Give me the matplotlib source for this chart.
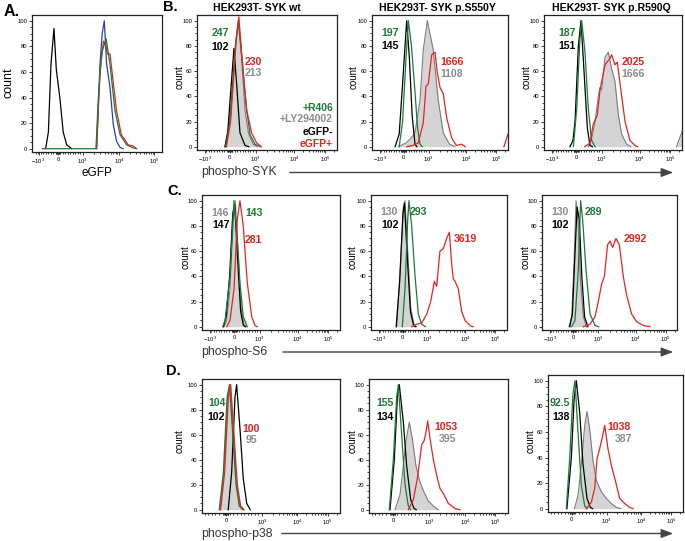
import numpy as np
import matplotlib
matplotlib.use('Agg')
import matplotlib.pyplot as plt
from matplotlib.patches import FancyArrowPatch

plt.rcParams['font.family'] = ['Liberation Sans', 'DejaVu Sans']
plt.rcParams['mathtext.default'] = 'regular'

W, H = 685, 541

GREEN = '#1b7a33'
RED = '#e42320'
BLUE = '#2c3db4'
GRAY_TXT = '#8c8c8c'
GRAY_EDGE = '#7c7c7c'
GRAY_FILL = '#d4d4d4'

# --- histogram curves, (display channel 0..100, % of max) ---
# panel A: eGFP
A_black = [(10.5, 0), (12.6, 13), (14.6, 66), (16.9, 94), (18.7, 62), (21.5, 39), (24, 13), (26.7, 3), (30.5, 0)]
A_blue = [(49.7, 0), (52.3, 66), (54, 90), (55.6, 100), (57.4, 66), (60, 48), (62.5, 19), (65, 6), (67.7, 1), (70, 0)]
A_green = [(8, 0), (49.2, 0), (51, 39), (53.6, 75), (57, 86), (60, 66), (63.8, 30), (67.7, 11), (72.8, 3), (78, 0.5), (80, 0)]
A_red = [(49.7, 0), (52.3, 60), (55, 84), (57, 80), (58, 74), (60, 74), (62.5, 52), (65, 30), (68.7, 11), (74, 3), (78, 2), (80.5, 0)]

# row B: phospho-SYK
B1_gray = [(20, 0), (23, 18), (25, 45), (27.4, 78), (29.5, 100), (31.9, 70), (34.3, 29), (36.7, 11), (40.2, 2), (43, 0)]
B1_black = [(20, 0), (22, 12), (23.6, 37), (26.4, 78), (28.3, 50), (30.7, 11), (34.3, 1), (37, 0)]
B1_green = [(20.5, 0), (23.5, 20), (25.5, 50), (27.5, 82), (29.6, 100), (32, 72), (35.5, 29), (37.9, 9.5), (41.4, 2), (45, 0)]
B1_red = [(21, 0), (24, 20), (26, 52), (28, 85), (29.9, 103), (33, 58), (35.5, 29), (39, 11), (42.6, 3), (46, 0)]

B2_gray = [(19.4, 0), (25, 3), (28, 6), (31.6, 11), (35.3, 37), (37.7, 77), (40.7, 100), (45, 77), (48.7, 37), (52.4, 11), (57, 2), (61, 0)]
B2_black = [(17, 0), (20, 10), (22.5, 50), (25.5, 100), (27.5, 70), (29.5, 25), (31.6, 2), (33, 0)]
B2_green = [(20, 0), (22.5, 20), (25, 70), (26.7, 100), (29, 80), (31.5, 45), (33.5, 15), (35.3, 2), (37, 0)]
B2_red = [(25.5, 0), (30, 1), (34, 3), (37.7, 19), (39.7, 48), (41.4, 50), (43.9, 73), (46.3, 75), (48, 59), (50, 47),
          (52.4, 42), (54.9, 23), (58.6, 7), (62, 1), (66, 2), (68.5, 0)]
B2_red_edge = [(97, 0), (98.5, 5), (100, 10)]

B3_gray = [(32, 0), (34.5, 6), (37, 20), (39.4, 40), (40.5, 47), (41.8, 45), (44.2, 71), (46.6, 75), (49, 62), (51.4, 52),
           (53.9, 25), (56.3, 10), (59.9, 2), (63, 0)]
B3_gray_edge = [(96, 0), (98, 6), (100, 12)]
B3_black = [(18.8, 0), (21, 5), (22.5, 20), (24.9, 80), (26.8, 100), (29, 60), (31.4, 15), (33.3, 1), (35, 0)]
B3_green = [(21.3, 0), (23.7, 30), (26, 85), (27.3, 100), (29.7, 75), (32.1, 30), (34.5, 5), (37, 0)]
B3_red = [(29.5, 0), (33.3, 3), (35.7, 18), (38.6, 25), (40.6, 45), (44.2, 65), (47.8, 70), (49, 73), (51.4, 65), (53.1, 67),
          (56.3, 40), (58.7, 20), (62.3, 5), (65.9, 1), (68, 0)]

# row C: phospho-S6
C1_gray = [(16, 0), (17.9, 5), (20.3, 30), (22.7, 85), (24.1, 100), (26.3, 55), (28.3, 15), (30.4, 2), (32, 0)]
C1_black = [(15.5, 0), (17.5, 8), (20, 40), (22.3, 90), (23.7, 97), (26, 50), (28, 12), (30, 1), (31.5, 0)]
C1_green = [(15, 0), (16.7, 5), (20.3, 40), (23.2, 100), (25.6, 70), (27.5, 35), (29.9, 8), (32.8, 0)]
C1_red = [(18, 0), (20.3, 5), (23.2, 30), (25.6, 85), (27.5, 100), (29.9, 80), (32.8, 35), (36, 8), (38.4, 1), (40, 0)]

C2_gray = [(18.9, 0), (21.3, 40), (23.8, 95), (25, 100), (27, 60), (29.2, 15), (31.6, 2), (33, 0)]
C2_black = [(18.5, 0), (21, 35), (23.5, 90), (24.6, 98), (26.7, 55), (29, 12), (31.3, 1), (33, 0)]
C2_green = [(23, 0), (25, 30), (27, 85), (27.9, 100), (29.9, 80), (32.4, 40), (34.8, 10), (37.3, 2), (40, 0)]
C2_red = [(29.9, 0), (33.6, 2), (37.3, 3), (41, 10), (43.9, 20), (46.6, 36), (48.3, 32), (50.7, 60), (53.2, 62), (55.6, 70),
          (57.6, 75), (59.3, 50), (60.5, 38), (61.8, 36), (64.2, 30), (66.7, 12), (69.1, 5), (72.8, 1), (75, 0)]

C3_gray = [(20, 0), (22, 8), (23.7, 50), (25.2, 100), (26.9, 80), (28.6, 35), (30.6, 8), (33, 0)]
C3_black = [(20.5, 0), (22.5, 10), (24.5, 60), (26, 95), (27.6, 85), (29.5, 40), (31.5, 8), (34, 0)]
C3_green = [(22, 0), (24.4, 5), (26.9, 45), (28.6, 100), (30.1, 85), (32.6, 45), (35.6, 10), (39.3, 1), (42, 0)]
C3_red = [(30.6, 0), (35.6, 2), (39.3, 8), (41.7, 20), (44.2, 34), (46.2, 40), (48.6, 65), (50.4, 68), (52.3, 63), (54.8, 70),
          (57.3, 65), (60.2, 40), (62.7, 25), (66.4, 10), (70.1, 4), (75, 1), (80, 0)]

# row D: phospho-p38
D1_gray = [(13, 0), (15.9, 30), (18.6, 90), (20.3, 100), (22.7, 60), (25.1, 20), (27.5, 3), (30, 0)]
D1_black = [(19, 0), (21.5, 30), (23.9, 90), (25.1, 100), (27.5, 65), (29.9, 25), (32.4, 5), (35, 0)]
D1_green = [(12.5, 0), (15.5, 30), (18.2, 90), (19.9, 100), (22.3, 60), (24.7, 20), (27, 3), (29.5, 0)]
D1_red = [(13.5, 0), (16.4, 30), (19.1, 90), (20.8, 100), (23.2, 60), (25.6, 20), (28, 3), (30.5, 0)]

D2_gray = [(18.7, 0), (22.3, 12), (24.7, 35), (26.6, 55), (29, 70), (31.4, 55), (33.8, 35), (36.7, 22), (39.6, 14),
           (42.7, 7), (46.3, 3), (49.9, 0)]
D2_black = [(15.1, 0), (18.2, 40), (20.4, 90), (21.8, 100), (24.7, 70), (27.1, 35), (30, 8), (32.4, 1), (34, 0)]
D2_green = [(14.6, 0), (17.5, 40), (19.9, 90), (21.1, 100), (23.5, 60), (25.9, 20), (28.3, 3), (30, 0)]
D2_red = [(28.3, 0), (31.9, 8), (34.8, 25), (37.9, 52), (39.6, 55), (41, 62), (42.2, 71), (43.9, 57), (46.3, 40), (49.2, 25),
          (51.1, 17), (53.5, 13), (57.1, 5), (61.9, 1), (65.5, 0)]

D3_gray = [(19.5, 0), (22.2, 10), (24.7, 35), (27.2, 65), (28.9, 76), (30.9, 62), (33.3, 38), (35.8, 22), (39.6, 13),
           (43.3, 8), (46.9, 4), (50.7, 1), (54, 0)]
D3_black = [(14, 0), (17.3, 40), (19.3, 85), (21, 100), (23.5, 75), (25.9, 35), (28.9, 8), (31.4, 1), (33, 0)]
D3_green = [(13.6, 0), (16.1, 40), (18.5, 90), (20, 100), (22.2, 60), (24.7, 18), (27.2, 2), (29, 0)]
D3_red = [(28.4, 0), (32.1, 5), (34.6, 16), (36.3, 39), (38.3, 47), (40.3, 56), (42, 65), (44.4, 47), (46.9, 34), (50.1, 21),
          (53.1, 8), (56.8, 4), (60.5, 1), (63, 0)]

# MFI values printed in the panels
B1_mfi = ['247', '102', '230', '213']
B2_mfi = ['197', '145', '1666', '1108']
B3_mfi = ['187', '151', '2025', '1666']
C1_mfi = ['146', '147', '143', '281']
C2_mfi = ['130', '102', '293', '3619']
C3_mfi = ['130', '102', '289', '2992']
D1_mfi = ['104', '102', '100', '95']
D2_mfi = ['155', '134', '1053', '395']
D3_mfi = ['92.5', '138', '1038', '387']

TITLES = ['HEK293T- SYK wt', 'HEK293T- SYK p.S550Y', 'HEK293T- SYK p.R590Q']
LEGEND = ['+R406', '+LY294002', 'eGFP-', 'eGFP+']
ROW_LABELS = ['phospho-SYK', 'phospho-S6', 'phospho-p38']

XTICKS_A = [5, 20, 39, 67, 94]
XTICKS_BC = [6, 23.3, 41.8, 69.4, 91.5]
XTICKS_D = [17.5, 43.5, 69, 91]
XLAB_FULL = ['$-10^3$', '0', '$10^3$', '$10^4$', '$10^5$']
XLAB_D = ['0', '$10^3$', '$10^4$', '$10^5$']

fig = plt.figure(figsize=(W / 100, H / 100), dpi=100)


def rect(x0, y0, x1, y1):
    return [x0 / W, 1 - y1 / H, (x1 - x0) / W, (y1 - y0) / H]


def ftext(x, y, s, **kw):
    kw.setdefault('va', 'center')
    fig.text(x / W, 1 - y / H, s, **kw)


def minor_ticks(major):
    p0, p3, p4, p5 = major[-4:]
    step = (p3 - p0) / 10
    t = [p0 + k * step for k in range(-9, 10) if k != 0]
    t += [p0 + k * 0.5 for k in (-3, -2, -1, 1, 2, 3)]
    for a, b in ((p3, p4), (p4, p5)):
        t += [a + np.log10(k) * (b - a) for k in range(2, 10)]
    t.append(p5 + np.log10(2) * (p5 - p4))
    return [v for v in t if 0.5 < v < 99.5]


def setup(ax, ticks, labels):
    ax.set_xlim(0, 100)
    ax.set_ylim(-2.6, 104.5)
    ax.set_xticks(ticks)
    ax.set_xticklabels(labels)
    ax.set_xticks(minor_ticks(ticks), minor=True)
    ax.set_yticks(range(0, 101, 20))
    ax.set_yticks(range(0, 101, 5), minor=True)
    ax.tick_params(which='both', direction='out', labelsize=4.2, pad=1, width=0.6, color='#222')
    ax.tick_params(which='major', length=2.5)
    ax.tick_params(which='minor', length=1.3)
    for s in ax.spines.values():
        s.set_linewidth(0.9)
        s.set_color('#222')


def line(ax, pts, color, lw=0.9):
    x, y = np.array(pts, dtype=float).T
    ax.plot(x, y, color=color, lw=lw, solid_joinstyle='round')


def filled(ax, pts):
    x, y = np.array(pts, dtype=float).T
    ax.fill_between(x, y, 0, color=GRAY_FILL, lw=0)
    ax.plot(x, y, color=GRAY_EDGE, lw=0.8)


def hist_panel(box, ticks, labels, gray, black, green, red, extras=()):
    ax = fig.add_axes(rect(*box))
    setup(ax, ticks, labels)
    filled(ax, gray)
    line(ax, black, 'black')
    line(ax, green, GREEN)
    line(ax, red, RED)
    for pts, kind in extras:
        if kind == 'gray':
            filled(ax, pts)
        else:
            line(ax, pts, RED)
    return ax


# ---- panel A ----
axA = fig.add_axes(rect(32, 15, 162, 152))
setup(axA, XTICKS_A, XLAB_FULL)
line(axA, A_black, 'black')
line(axA, A_blue, BLUE)
line(axA, A_red, RED)
line(axA, A_green, GREEN)
ftext(4, 11, 'A.', fontsize=11.5, fontweight='bold')
ftext(9, 83, 'count', fontsize=9, rotation=90, ha='center')
ftext(97, 173, 'eGFP', fontsize=8.5, ha='center')

# ---- rows B, C, D ----
hist_panel((197, 15, 337, 150), XTICKS_BC, XLAB_FULL, B1_gray, B1_black, B1_green, B1_red)
hist_panel((372, 15, 508, 150), XTICKS_BC, XLAB_FULL, B2_gray, B2_black, B2_green, B2_red,
           extras=[(B2_red_edge, 'red')])
hist_panel((544, 15, 682, 150), XTICKS_BC, XLAB_FULL, B3_gray, B3_black, B3_green, B3_red,
           extras=[(B3_gray_edge, 'gray')])
hist_panel((202, 195, 340, 330), XTICKS_BC, XLAB_FULL, C1_gray, C1_black, C1_green, C1_red)
hist_panel((371, 195, 507, 330), XTICKS_BC, XLAB_FULL, C2_gray, C2_black, C2_green, C2_red)
hist_panel((542, 195, 677, 330), XTICKS_BC, XLAB_FULL, C3_gray, C3_black, C3_green, C3_red)
hist_panel((202, 379, 340, 513), XTICKS_D, XLAB_D, D1_gray, D1_black, D1_green, D1_red)
hist_panel((369, 379, 508, 513), XTICKS_D, XLAB_D, D2_gray, D2_black, D2_green, D2_red)
hist_panel((548, 375, 683, 512), XTICKS_D, XLAB_D, D3_gray, D3_black, D3_green, D3_red)

# titles and panel letters
for cx, t in zip((257, 437, 611), TITLES):
    ftext(cx, 8, t, fontsize=7.6, fontweight='bold', ha='center')
ftext(163, 7, 'B.', fontsize=10.5, fontweight='bold')
ftext(167, 191, 'C.', fontsize=10.5, fontweight='bold')
ftext(166, 371, 'D.', fontsize=10.5, fontweight='bold')

# count labels
for x, y in ((180, 77), (354, 77), (527, 77), (186, 257), (353, 257), (526, 257), (180, 441), (353, 441), (531, 441)):
    ftext(x, y, 'count', fontsize=7, rotation=90, ha='center')

# legend in B1
for y, s, c in zip((108, 119.5, 132, 144), LEGEND, (GREEN, GRAY_TXT, 'black', RED)):
    ftext(333, y, s, fontsize=7.5, fontweight='bold', color=c, ha='right')

# MFI numbers: (values, colours, positions)
num_kw = dict(fontsize=7.6, fontweight='bold')
mfi_layout = [
    (B1_mfi, (GREEN, 'black', RED, GRAY_TXT), ((211.7, 33), (211.7, 47), (245, 62), (245, 73))),
    (B2_mfi, (GREEN, 'black', RED, GRAY_TXT), ((381.7, 33), (381.7, 46), (440, 62), (440, 74))),
    (B3_mfi, (GREEN, 'black', RED, GRAY_TXT), ((558, 33), (558, 46), (621.7, 62), (621.7, 74))),
    (C1_mfi, (GRAY_TXT, 'black', GREEN, RED), ((211.7, 212.7), (212.5, 225), (245, 212.7), (245, 240))),
    (C2_mfi, (GRAY_TXT, 'black', GREEN, RED), ((380, 212), (381, 225), (410, 212), (453.3, 239.3))),
    (C3_mfi, (GRAY_TXT, 'black', GREEN, RED), ((551.7, 212.3), (551.7, 225), (585, 212.3), (623.3, 239.3))),
    (D1_mfi, (GREEN, 'black', RED, GRAY_TXT), ((208.3, 403.3), (207.3, 416.7), (242.7, 429.3), (246, 440))),
    (D2_mfi, (GREEN, 'black', RED, GRAY_TXT), ((376.7, 403.3), (376.7, 416.7), (434.3, 427.3), (439, 439.3))),
    (D3_mfi, (GREEN, 'black', RED, GRAY_TXT), ((550, 403.3), (552.7, 416.7), (607.3, 427.3), (614.3, 439.3))),
]
for vals, cols, pos in mfi_layout:
    for v, c, (x, y) in zip(vals, cols, pos):
        ftext(x, y, v, color=c, **num_kw)

# row axis labels with arrows
for (ty, x0), s in zip(((172.5, 287), (352, 280), (533.5, 279)), ROW_LABELS):
    ftext(201, ty, s, fontsize=8.8, color='#333')
    arr = FancyArrowPatch((x0 / W, 1 - ty / H), (676 / W, 1 - ty / H), transform=fig.transFigure,
                          arrowstyle='-|>,head_length=0.4,head_width=0.15', mutation_scale=18,
                          color='#444', lw=1.0)
    fig.add_artist(arr)

fig.savefig('out.png', dpi=100)
